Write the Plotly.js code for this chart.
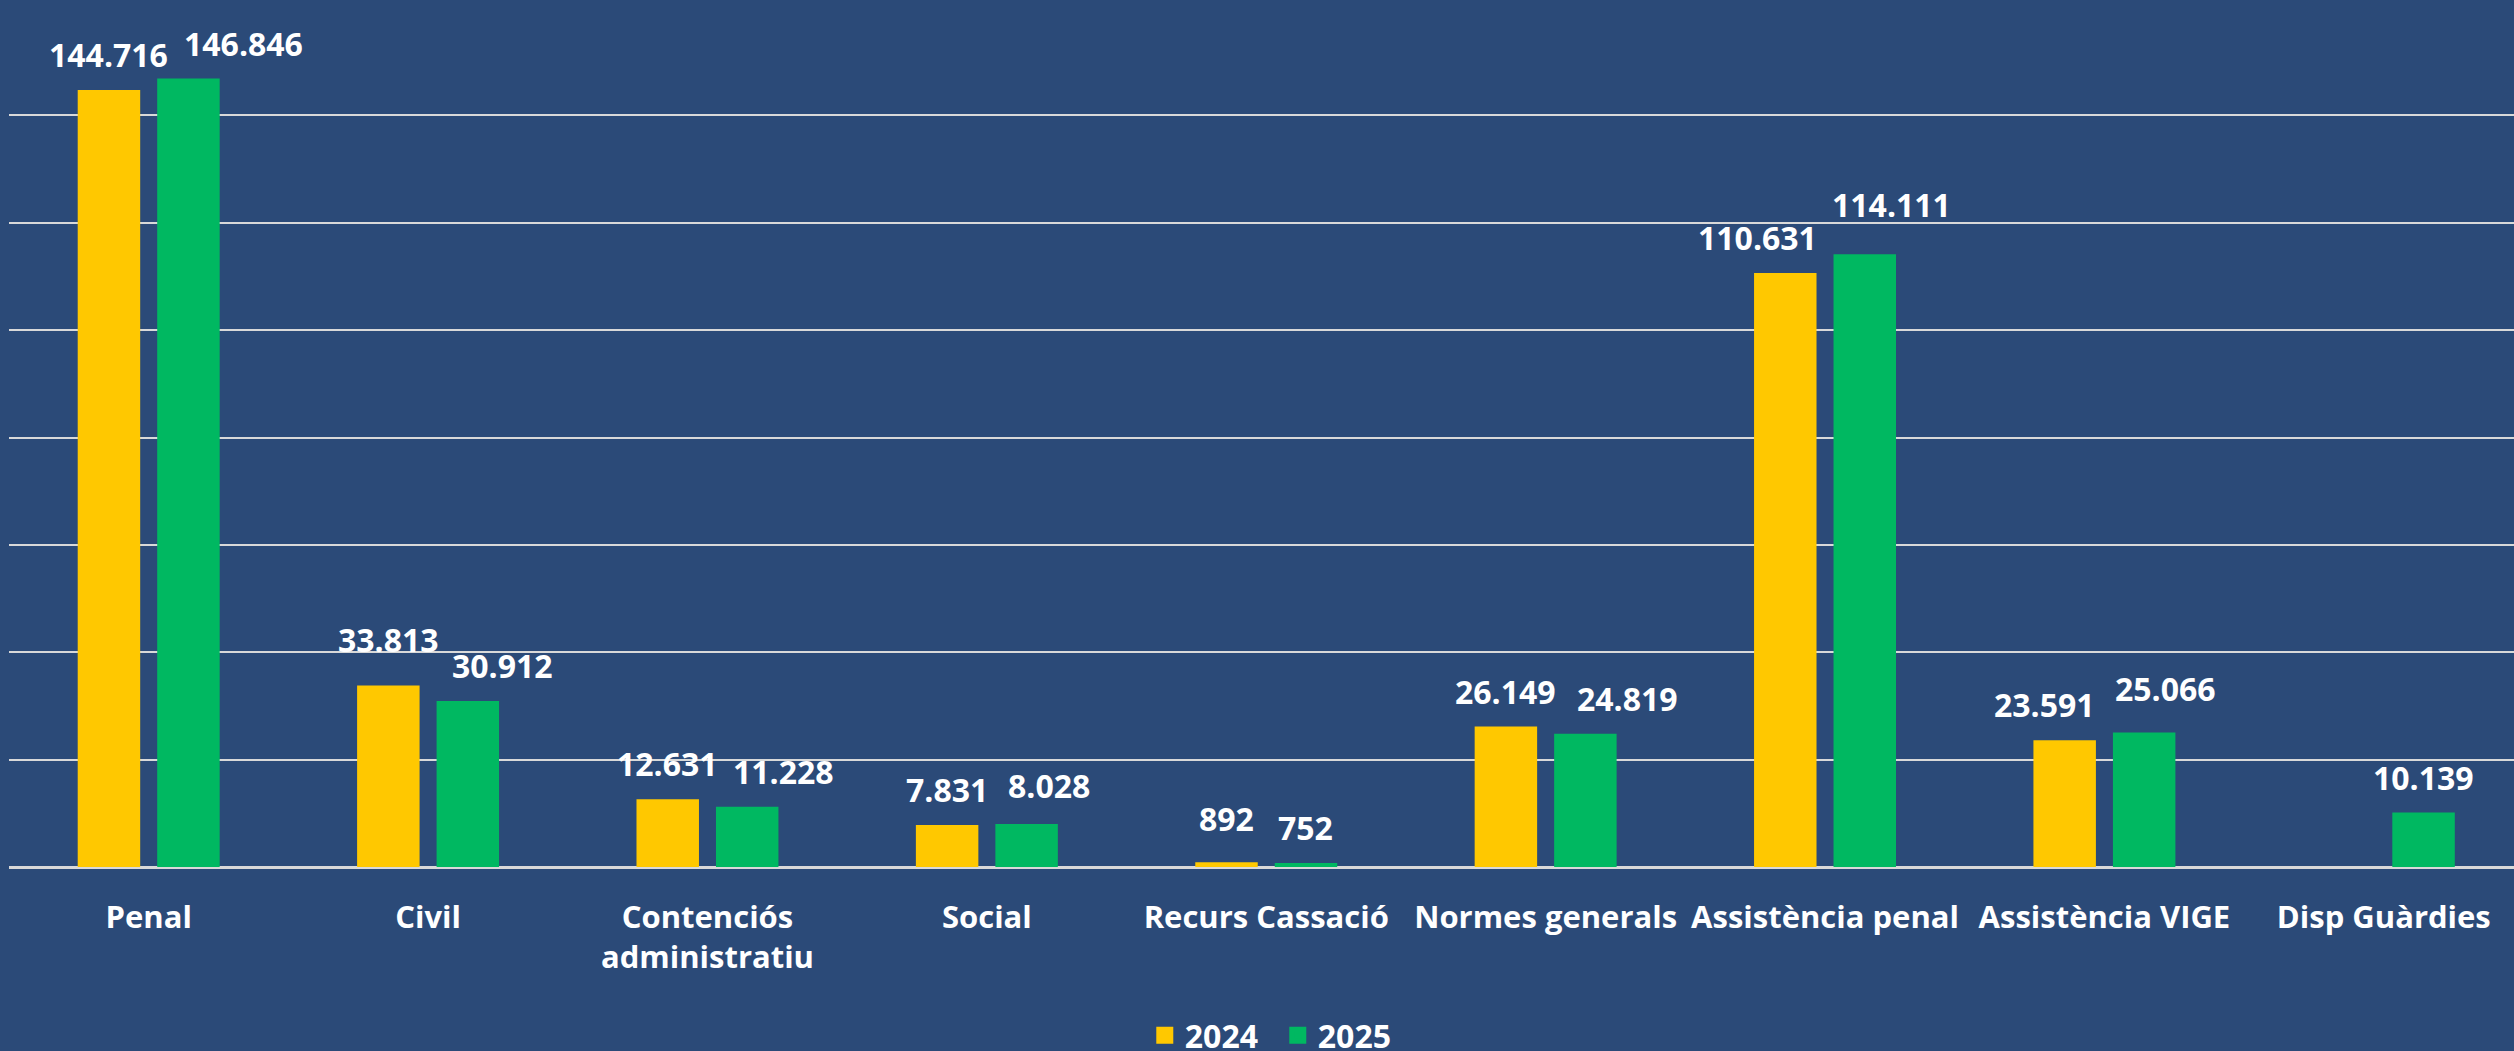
<!DOCTYPE html>
<html>
<head>
<meta charset="utf-8">
<script src="https://cdn.plot.ly/plotly-3.0.1.min.js"></script>
<style>
  html, body { margin: 0; padding: 0; background: #2B4A78; overflow: hidden; }
  #chart { width: 2514px; height: 1051px; }
</style>
</head>
<body>
<div id="chart"></div>
<script>
// ---- data ----
const categories = [
  "Penal",
  "Civil",
  "Contenciós<br>administratiu",
  "Social",
  "Recurs Cassació",
  "Normes generals",
  "Assistència penal",
  "Assistència VIGE",
  "Disp Guàrdies"
];
const seriesNames = ["2024", "2025"];
const values2024 = [144716, 33813, 12631, 7831, 892, 26149, 110631, 23591, null];
const values2025 = [146846, 30912, 11228, 8028, 752, 24819, 114111, 25066, 10139];
const yTicks = [0, 20000, 40000, 60000, 80000, 100000, 120000, 140000, 160000];

// ---- label nudges (px, style only: the reference moved some labels aside) ----
const labelDx2024 = [0, 0, 0, 0, 0, 0, -28, -20, 0];
const labelDx2025 = [55, 35, 36, 22, 0, 42, 27, 21, 0];
const labelDy2024 = [0, 10, 0, 0, 8, 0, 0, 0, 0];
const labelDy2025 = [0, 0, 0, 3, 0, 0, 14, 8, 0];

// ---- style constants ----
const BG = "#2B4A78";
const YELLOW = "#FFC800";
const GREEN = "#00B861";
const GRID = "#D9D9D9";
const FONT = "Open Sans";
const W = 2514, H = 1051;
const M = { l: 9, r: 0, t: 8, b: 184 };
const BARGAP = 0.431, BARGROUPGAP = 0.214;
const XRANGE = [-0.5, 8.466];

function fmt(v) {
  return String(v).replace(/\B(?=(\d{3})+(?!\d))/g, ".");
}

const noValues = categories.map(() => null);
const traces = [
  { type: "bar", name: seriesNames[0], x: categories, y: values2024, offsetgroup: "a",
    marker: { color: YELLOW }, hoverinfo: "skip", showlegend: false },
  { type: "bar", name: seriesNames[1], x: categories, y: values2025, offsetgroup: "b",
    marker: { color: GREEN }, hoverinfo: "skip", showlegend: false },
  // legend entries (bigger swatches via outline), no visible bars
  { type: "bar", name: seriesNames[0], x: categories, y: noValues, offsetgroup: "a",
    marker: { color: YELLOW, line: { color: YELLOW, width: 5 } }, showlegend: true, hoverinfo: "skip" },
  { type: "bar", name: seriesNames[1], x: categories, y: noValues, offsetgroup: "b",
    marker: { color: GREEN, line: { color: GREEN, width: 5 } }, showlegend: true, hoverinfo: "skip" }
];

// data labels via annotations, offset to each bar's slot centre
const plotW = W - M.l - M.r;
const catW = plotW / (XRANGE[1] - XRANGE[0]);
const slot = catW * (1 - BARGAP) / 2;
const annotations = [];
[[values2024, labelDx2024, labelDy2024], [values2025, labelDx2025, labelDy2025]].forEach((s, si) => {
  const [vals, dxs, dys] = s;
  vals.forEach((v, i) => {
    if (v === null || v === undefined) return;
    annotations.push({
      x: categories[i], y: v, xref: "x", yref: "y",
      text: fmt(v), showarrow: false,
      xshift: (si === 0 ? -1 : 1) * slot / 2 + dxs[i],
      yanchor: "bottom", yshift: 12 + dys[i],
      font: { family: FONT, size: 32, color: "#FFFFFF", weight: "bold" }
    });
  });
});

const layout = {
  width: W, height: H,
  paper_bgcolor: BG, plot_bgcolor: BG,
  margin: { l: M.l, r: M.r, t: M.t, b: M.b, autoexpand: false },
  barmode: "group",
  bargap: BARGAP,
  bargroupgap: BARGROUPGAP,
  showlegend: true,
  legend: {
    orientation: "h", x: 0.5065, xanchor: "center",
    y: -0.196, yanchor: "middle",
    entrywidth: 88,
    font: { family: FONT, size: 32, color: "#FFFFFF", weight: "bold" },
    bgcolor: "rgba(0,0,0,0)"
  },
  xaxis: {
    type: "category", range: XRANGE,
    tickangle: 0, ticks: "", showgrid: false, showline: false, zeroline: false,
    tickfont: { family: FONT, size: 31, color: "#FFFFFF", weight: "bold" },
    ticklabelstandoff: 29, fixedrange: true
  },
  yaxis: {
    range: [0, 160000], tickmode: "array", tickvals: yTicks,
    showticklabels: false, ticks: "",
    showgrid: true, gridcolor: GRID, gridwidth: 2,
    zeroline: true, zerolinecolor: GRID, zerolinewidth: 3,
    showline: false, fixedrange: true
  },
  annotations: annotations,
  font: { family: FONT, color: "#FFFFFF" }
};

Plotly.newPlot("chart", traces, layout, { staticPlot: true, displayModeBar: false });
</script>
</body>
</html>
